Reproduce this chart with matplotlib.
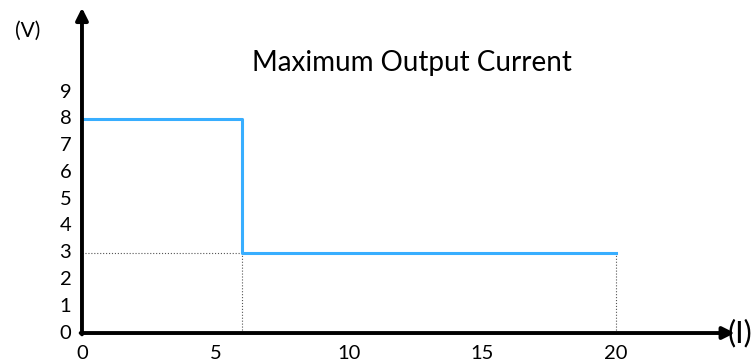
import matplotlib.pyplot as plt

# step curve: voltage limit vs current
current = [0, 6, 20]
voltage = [8, 3, 3]
xticks = [0, 5, 10, 15, 20]
yticks = list(range(10))
title = 'Maximum Output Current'

plt.rcParams['font.family'] = ['Lato', 'DejaVu Sans']

fig = plt.figure(figsize=(7.53, 3.63), dpi=100)
ax = fig.add_axes([0, 0, 1, 1])
ax.axis('off')
ax.set_xlim(-3.07, 25.13)
ax.set_ylim(-1.12, 12.44)

# dotted guide lines
ax.plot([0, current[1]], [voltage[1], voltage[1]], ':', color='#555555', lw=0.8)
ax.plot([current[1], current[1]], [0, voltage[1]], ':', color='#555555', lw=0.8)
ax.plot([current[2], current[2]], [0, voltage[2]], ':', color='#555555', lw=0.8)

ax.plot(current, voltage, drawstyle='steps-post', color='#38AEFF', lw=2.2)

# axes with arrows
ax.annotate('', xy=(24.45, 0), xytext=(-0.05, 0),
            arrowprops=dict(arrowstyle='-|>', lw=2.8, color='black', mutation_scale=18, shrinkA=0, shrinkB=0))
ax.annotate('', xy=(0, 12.15), xytext=(0, -0.05),
            arrowprops=dict(arrowstyle='-|>', lw=2.8, color='black', mutation_scale=18, shrinkA=0, shrinkB=0))

for t in xticks:
    ax.text(t, -0.75, str(t), ha='center', va='center', fontsize=14.5)
for t in yticks:
    ax.text(-0.4, t, str(t), ha='right', va='center', fontsize=14.5)

ax.text(-2.05, 11.3, '(V)', ha='center', va='center', fontsize=15)
ax.text(25.1, 0, '(I)', ha='right', va='center', fontsize=22)
ax.text(12.35, 10.1, title, ha='center', va='center', fontsize=20)

plt.savefig('out.png', dpi=100)
